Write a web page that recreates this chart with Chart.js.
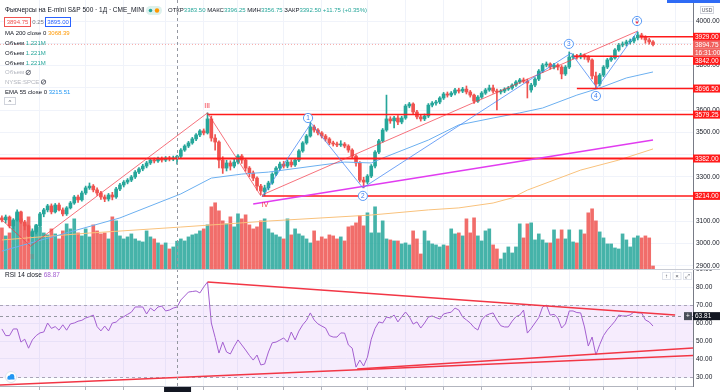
<!DOCTYPE html>
<html>
<head>
<meta charset="utf-8">
<title>E-mini S&amp;P 500 - 1D</title>
<script src="https://cdn.jsdelivr.net/npm/chart.js@4.4.1/dist/chart.umd.min.js"></script>
<style>
  html, body { margin: 0; padding: 0; background: #ffffff; overflow: hidden; }
  #wrap { position: relative; width: 720px; height: 392px; }
  #mainChart { position: absolute; left: 0; top: 0; }
  #rsiChart { position: absolute; left: 0; top: 269px; }
</style>
</head>
<body>
<div id="wrap">
  <canvas id="mainChart" width="720" height="269"></canvas>
  <canvas id="rsiChart" width="720" height="123"></canvas>
</div>
<script>
// Daily bars (bar index 0 = first visible day)
const opens = [3115,3106,3119,3079,3106,3142,3097,3079,3034,3052,
  3079,3133,3151,3169,3142,3173,3151,3133,3160,3182,
  3209,3196,3227,3250,3258,3241,3227,3209,3200,3218,
  3209,3245,3263,3276,3285,3299,3321,3335,3348,3362,
  3375,3371,3380,3375,3384,3380,3383.5,3392,3420,3438,
  3452,3470,3488,3506,3497,3560,3474,3456,3375,3339,
  3362,3348,3366,3393,3375,3339,3317,3294,3258,3232,
  3250,3272,3312,3339,3357,3348,3366,3353,3375,3416,
  3452,3483,3524,3510,3497,3483,3470,3452,3447,3443,
  3447,3438,3420,3393,3362,3285,3276,3303,3348,3411,
  3461,3510,3560,3551,3564,3546,3564,3618,3627,3591,
  3569,3560,3573,3622,3631,3636,3654,3672,3667,3676,
  3690,3685,3694,3681,3667,3640,3658,3676,3690,3699,
  3685,3681,3685,3694,3699,3712,3726,3735,3730,3690,
  3712,3739,3775,3802,3807,3793,3802,3793,3762,3793,
  3838,3843,3838,3847,3838,3825,3753,3717,3757,3793,
  3825,3834,3870,3892,3897,3906,3910,3924,3937,3928,
  3915,3906];
const highs = [3124,3128,3124,3112,3151,3146,3104,3083,3066,3086,
  3140,3158,3176,3178,3180,3182,3160,3166,3189,3216,
  3218,3236,3258,3272,3265,3250,3234,3218,3225,3230,
  3252,3270,3283,3292,3306,3328,3341,3356,3369,3383,
  3384,3388,3389,3391,3392,3393,3396.25,3427,3444,3459,
  3477,3494,3512,3515,3587,3573,3490,3462,3390,3374,
  3372,3378,3400,3400,3382,3346,3326,3300,3266,3262,
  3280,3318,3346,3366,3369,3374,3376,3382,3422,3458,
  3490,3546,3532,3516,3503,3490,3476,3460,3456,3462,
  3454,3444,3426,3398,3368,3298,3310,3355,3418,3468,
  3517,3667,3570,3572,3575,3572,3625,3634,3632,3598,
  3578,3582,3629,3638,3644,3660,3679,3681,3683,3697,
  3698,3702,3708,3688,3672,3665,3683,3697,3712,3712,
  3694,3692,3700,3706,3718,3732,3742,3744,3739,3720,
  3746,3782,3809,3816,3812,3810,3808,3800,3800,3861,
  3852,3850,3855,3852,3844,3830,3770,3764,3800,3832,
  3842,3876,3899,3906,3914,3919,3931,3950,3945,3934,
  3922,3912];
const lows = [3097,3092,3070,3066,3100,3090,3061,3012,3025,3043,
  3074,3120,3142,3133,3137,3146,3124,3126,3155,3176,
  3185,3190,3220,3243,3232,3216,3198,3188,3191,3196,
  3203,3238,3254,3268,3278,3292,3314,3327,3340,3355,
  3362,3364,3366,3368,3371,3372,3356.75,3386,3414,3431,
  3446,3462,3480,3488,3492,3460,3420,3340,3315,3326,
  3330,3340,3358,3360,3325,3300,3282,3240,3220,3214,
  3241,3266,3305,3330,3339,3340,3344,3346,3368,3410,
  3446,3478,3500,3488,3474,3460,3444,3438,3435,3436,
  3430,3410,3384,3348,3276,3250,3268,3296,3340,3404,
  3455,3504,3540,3520,3534,3538,3558,3610,3582,3560,
  3550,3552,3566,3614,3622,3628,3647,3658,3660,3668,
  3676,3678,3672,3658,3630,3634,3652,3670,3684,3676,
  3600,3672,3678,3688,3692,3706,3719,3722,3654,3680,
  3705,3732,3768,3794,3784,3785,3780,3740,3755,3786,
  3830,3829,3830,3828,3815,3740,3696.5,3708,3750,3786,
  3818,3828,3864,3884,3888,3896,3902,3915,3918,3900,
  3896,3888];
const closes = [3106,3119,3079,3106,3142,3097,3079,3034,3052,3079,
  3133,3151,3169,3142,3173,3151,3133,3160,3182,3209,
  3196,3227,3250,3258,3241,3227,3209,3200,3218,3209,
  3245,3263,3276,3285,3299,3321,3335,3348,3362,3375,
  3371,3380,3375,3384,3380,3380.75,3392.5,3420,3438,3452,
  3470,3488,3506,3497,3560,3474,3456,3375,3339,3362,
  3348,3366,3393,3375,3339,3317,3294,3258,3236,3250,
  3272,3312,3339,3357,3348,3366,3353,3375,3416,3452,
  3483,3524,3510,3497,3483,3470,3452,3447,3443,3447,
  3438,3420,3393,3362,3285,3276,3303,3348,3411,3461,
  3510,3560,3551,3564,3546,3564,3618,3627,3591,3569,
  3560,3573,3622,3631,3636,3654,3672,3667,3676,3690,
  3685,3694,3681,3667,3640,3658,3676,3690,3699,3685,
  3681,3685,3694,3699,3712,3726,3735,3730,3721,3712,
  3739,3775,3802,3807,3793,3802,3793,3762,3793,3838,
  3843,3838,3847,3838,3825,3753,3717,3757,3793,3825,
  3834,3870,3892,3897,3906,3910,3924,3937,3928,3915,
  3906,3894.75];
// volume, thousands of contracts
const volumes = [1804,1452,1584,2112,2464,2200,1980,2288,1672,1936,
  1848,1584,1496,1760,1540,1320,1672,1980,1760,2200,
  1584,1452,1760,1408,1936,1672,1540,1584,1320,2288,
  2112,1452,1320,1408,1540,1320,1232,1188,1672,1408,
  1320,1144,1056,1144,880,968,1221,1320,1232,1408,
  1496,1540,1672,1760,1936,2728,2904,2552,2112,1980,
  2288,1848,2420,2200,2376,1936,1760,1848,2112,2200,
  1760,1584,1496,1408,1320,2200,1496,1760,1540,1452,
  1320,1144,1672,1232,1408,1320,1496,1452,1320,1408,
  1232,1848,1892,2024,2332,1892,2464,1584,2728,1584,
  2112,1320,1276,1232,1232,1100,1144,1056,1672,1320,
  660,1672,1232,1100,1056,968,1056,1012,1760,1540,
  1584,1452,2200,1584,2244,1452,1232,1672,1760,1056,
  880,440,704,968,704,968,1980,1364,1980,2024,
  1276,1540,1276,1144,1144,1716,1320,1716,1320,1716,
  1188,1144,1716,1540,2464,2640,2112,1628,1364,1100,
  1100,924,880,1540,1276,968,1364,1452,1364,1452,
  1364,132];
const rsiValues = [56.7,53,53,56.7,56.7,49.4,51,46,50.6,53,
  54.5,55,60,57,58,56,59,56,59.5,60,
  61,61.5,62.8,63.5,64.4,58,55.6,58.3,55.6,60,
  60.5,62.5,63.5,64.8,66,68.9,68.9,68.9,65,68.3,
  66.7,68.9,69.4,66.7,67.2,68.3,68.87,72.8,75,77.2,
  77.5,77.8,76.7,80,82.8,60,52,43.3,49.4,43.9,
  42.8,47,50.6,47.8,45,42,39.4,42.2,36.7,37.2,
  43.9,49,49.4,50.5,51.7,49.4,55,50.6,55.5,59,
  61.5,65.6,61.7,59.5,58.3,57.2,53,52.2,52.2,54.5,
  54.4,47.8,46,35.5,39.4,36.1,41,51,57,60.6,
  60,63.3,62.8,64.4,60.6,63.5,66.1,63.5,59.4,60.6,
  57.2,60,63.3,63.9,63,62.2,65,65.6,66,68.3,
  67.2,63.3,61.7,60,57.5,56.1,61.7,64,65,65.6,
  61.7,58.5,57.8,57.8,61,63.5,64.4,67.2,54.4,57,
  60,63,68.9,70,64.4,64.8,62.8,57.2,59.5,66.7,
  66.7,65.8,65.6,57.8,47.2,52.2,42.2,48,53,56.1,
  58.5,61,64.4,63.9,63.9,64.5,66.1,65.6,65.6,61.7,
  60.6,58.3];

// moving averages, read at a few bars
const emaIdx = [0, 15, 31, 47, 55, 63, 70, 84, 90, 97, 100, 112, 120, 129, 136, 142, 151, 157, 164, 171];
const emaVals = [2966, 3038, 3115, 3223, 3294, 3312, 3321, 3353, 3366, 3362, 3384, 3465, 3533, 3564, 3587, 3609, 3667, 3699, 3744, 3771];
const maIdx = [0, 23, 47, 70, 97, 112, 120, 129, 134, 138, 145, 152, 162, 171];
const maVals = [3016, 3047, 3074, 3101, 3128, 3151, 3160, 3182, 3205, 3240, 3285, 3330, 3375, 3425];

// axes
const priceTicks = [2900, 3000, 3100, 3200, 3300, 3400, 3500, 3600, 3700, 3800, 3900, 4000];
const rsiTicks = [30, 40, 50, 60, 70, 80, 90];
const dateTicks = [10, 22, 32, 43, 53, 62, 74, 84, 96, 106, 116, 126, 139, 149, 158, 167, 177];

// horizontal levels and their starting bar
const levelPrices = [3929, 3842, 3696.5, 3579.25, 3382, 3214];
const levelFrom = [167.5, 150, 151, 54, -0.5, 68.3];
const lastPrice = 3894.75;
const askPrice = 3895.00;
const crossIdx = 46;
const crossRsi = 63.81;
const maLegend = 3068.39;
const emaLegend = 3215.51;

// drawing-tool lines (bar index / price)
const redWaveX = [0, 7.5, 54, 68];
const redWaveY = [3106, 2988, 3587, 3214];
const channelX = [68.3, 167];
const channelY = [3218, 3955];
const blueWaveX = [68.3, 81.2, 94.8, 149.5, 156.3, 167];
const blueWaveY = [3209, 3541, 3250, 3856, 3699, 3955];
const magentaX = [66, 171];
const magentaY = [3178, 3465];
const waveText = ['II', 'III', 'IV', '1', '2', '3', '4', '5'];
const waveIdx = [7.9, 53.9, 69.1, 80.4, 94.8, 148.9, 156, 166.8];
const wavePrice = [2939, 3618, 3173, 3564, 3214, 3897, 3663, 4000];

// RSI trend lines
const rsiTopX = [54, 176.8];
const rsiTopY = [82.8, 64.4];
const rsiLowAX = [-0.5, 181.5];
const rsiLowAY = [25.6, 41.9];
const rsiLowBX = [93.3, 181.5];
const rsiLowBY = [34.4, 46.1];

const FONT = '"Liberation Sans", Arial, sans-serif';
const UP = '#26a69a';
const DOWN = '#ef5350';
const DARK = '#131722';
const FAINT = '#b2b5be';
const GRID = '#f0f3fa';
const X_MIN = -0.5, X_MAX = 181.5;

const candleColor = closes.map((c, i) => c >= opens[i] ? UP : DOWN);
const volColor = closes.map((c, i) => c >= opens[i] ? 'rgba(38,166,154,0.85)' : 'rgba(239,83,80,0.85)');

function pts(xs, ys) {
    return xs.map((v, k) => ({ x: v, y: ys[k] }));
}

function lineSet(data, color, width, order, dash) {
    return {
        type: 'line', data: data, borderColor: color, borderWidth: width,
        pointRadius: 0, fill: false, tension: 0, order: order,
        borderDash: dash || [], xAxisID: 'x', yAxisID: 'y'
    };
}

function segs(ctx, x, y, parts) {
    parts.forEach(([t, c]) => {
        ctx.fillStyle = c;
        ctx.fillText(t, x, y);
        x += ctx.measureText(t).width;
    });
    return x;
}

function tagBox(ctx, x, top, w, h, bg, text, fg) {
    ctx.fillStyle = bg;
    ctx.fillRect(x, top, w, h);
    ctx.fillStyle = fg;
    ctx.textAlign = 'left';
    ctx.textBaseline = 'middle';
    ctx.fillText(text, x + 2, top + h / 2 + 0.5);
}

function dashedV(ctx, x, top, bottom) {
    ctx.save();
    ctx.strokeStyle = '#9598a1';
    ctx.lineWidth = 1;
    ctx.setLineDash([3, 3]);
    ctx.beginPath();
    ctx.moveTo(Math.round(x) + 0.5, top);
    ctx.lineTo(Math.round(x) + 0.5, bottom);
    ctx.stroke();
    ctx.restore();
}

function xScaleCfg(extra) {
    return Object.assign({
        type: 'linear', min: X_MIN, max: X_MAX, offset: false,
        grid: { color: GRID, drawTicks: false, offset: false },
        border: { display: false },
        ticks: { display: false, autoSkip: false },
        afterBuildTicks: s => { s.ticks = dateTicks.map(v => ({ value: v })); },
        afterFit: s => { s.height = 0; s.paddingLeft = 0; s.paddingRight = 0; }
    }, extra || {});
}

function nearTag(v) {
    return levelPrices.concat([lastPrice]).some(p => Math.abs(p - v) < 20);
}

// ---- main panel overlay: crosshair, wave marks, legend, price tags ----
const mainOverlay = {
    id: 'mainOverlay',
    afterDatasetsDraw(chart) {
        const { ctx, chartArea: a, scales: { x, y } } = chart;
        dashedV(ctx, x.getPixelForValue(crossIdx), a.top, a.bottom);

        ctx.save();
        ctx.textAlign = 'center';
        ctx.textBaseline = 'middle';
        waveText.forEach((t, k) => {
            const px = x.getPixelForValue(waveIdx[k]);
            const py = y.getPixelForValue(wavePrice[k]);
            const roman = /I|V/.test(t);
            if (roman) {
                ctx.font = '7px ' + FONT;
                ctx.fillStyle = t === 'II' ? 'rgba(242,54,69,0.45)' : '#f23645';
                ctx.fillText(t, px, py);
            } else {
                ctx.beginPath();
                ctx.arc(px, py, 4.6, 0, Math.PI * 2);
                ctx.fillStyle = '#ffffff';
                ctx.fill();
                ctx.strokeStyle = '#5b9cf6';
                ctx.lineWidth = 1;
                ctx.stroke();
                ctx.font = '6.5px ' + FONT;
                ctx.fillStyle = '#3d7ef0';
                ctx.fillText(t, px, py + 0.5);
                if (t === '5') {
                    ctx.fillStyle = '#f23645';
                    ctx.beginPath();
                    ctx.moveTo(px - 1.6, py + 0.5);
                    ctx.lineTo(px + 1.6, py + 0.5);
                    ctx.lineTo(px, py + 3.2);
                    ctx.fill();
                }
            }
        });
        ctx.restore();
    },
    afterDraw(chart) {
        const { ctx, chartArea: a, scales: { y } } = chart;
        ctx.save();
        ctx.font = '6.5px ' + FONT;

        // price tags on the right scale, stacked so they do not overlap
        const tags = levelPrices.map(p => ({ v: p, bg: '#ff1a1a' }));
        tags.push({ v: lastPrice, bg: '#f0625f', sub: '16:31:00' });
        tags.sort((p, q) => q.v - p.v);
        let bottom = -Infinity;
        tags.forEach(t => {
            const top = Math.max(y.getPixelForValue(t.v) - 4, bottom);
            tagBox(ctx, a.right, top, 27, 8, t.bg, t.v.toFixed(2), '#ffffff');
            bottom = top + 8;
            if (t.sub) {
                tagBox(ctx, a.right, bottom, 27, 8, t.bg, t.sub, '#ffffff');
                bottom += 8;
            }
        });

        // USD box and top strip
        ctx.fillStyle = '#2f6bf5';
        ctx.fillRect(667, 0, 53, 3);
        ctx.strokeStyle = '#d1d4dc';
        ctx.lineWidth = 1;
        ctx.strokeRect(700.5, 6.5, 13, 7);
        ctx.fillStyle = '#50535e';
        ctx.font = '5px ' + FONT;
        ctx.textAlign = 'center';
        ctx.textBaseline = 'middle';
        ctx.fillText('USD', 707, 10.3);

        // legend
        const c = crossIdx;
        const chg = closes[c] - closes[c - 1];
        const pct = chg / closes[c - 1] * 100;
        ctx.textAlign = 'left';
        ctx.font = '6.5px ' + FONT;
        segs(ctx, 5, 10.5, [['Фьючерсы на E-mini S&P 500 · 1Д · CME_MINI', DARK]]);
        ctx.fillStyle = '#dcf1ed';
        ctx.beginPath();
        ctx.roundRect(146, 6, 16, 9, 4.5);
        ctx.fill();
        ctx.fillStyle = UP;
        ctx.beginPath(); ctx.arc(150.5, 10.5, 1.8, 0, Math.PI * 2); ctx.fill();
        ctx.fillStyle = '#ff9800';
        ctx.beginPath(); ctx.arc(157, 10.5, 2.2, 0, Math.PI * 2); ctx.fill();
        ctx.font = '6px ' + FONT;
        segs(ctx, 168, 10.5, [
            ['ОТКР', DARK], [opens[c].toFixed(2), UP],
            [' МАКС', DARK], [highs[c].toFixed(2), UP],
            [' МИН', DARK], [lows[c].toFixed(2), UP],
            [' ЗАКР', DARK], [closes[c].toFixed(2), UP],
            [' +' + chg.toFixed(2) + ' (+' + pct.toFixed(2) + '%)', UP]
        ]);

        // bid / ask boxes
        ctx.font = '6px ' + FONT;
        ctx.fillStyle = '#ffffff';
        ctx.fillRect(4, 17.5, 26, 9);
        ctx.strokeStyle = DOWN;
        ctx.strokeRect(4.5, 17.5, 26, 9);
        ctx.textAlign = 'center';
        ctx.fillStyle = DOWN;
        ctx.fillText(lastPrice.toFixed(2), 17.5, 22.5);
        ctx.fillStyle = '#787b86';
        ctx.fillText((askPrice - lastPrice).toFixed(2), 38, 22.5);
        ctx.fillStyle = '#ffffff';
        ctx.fillRect(45, 17.5, 25, 9);
        ctx.strokeStyle = '#2962ff';
        ctx.strokeRect(45.5, 17.5, 25, 9);
        ctx.fillStyle = '#2962ff';
        ctx.fillText(askPrice.toFixed(2), 58, 22.5);
        ctx.textAlign = 'left';

        const vol = (volumes[c] / 1000).toFixed(3) + 'M';
        segs(ctx, 5, 33.5, [['MA 200 close 0 ', DARK], [maLegend.toFixed(2), '#ff9800']]);
        [43.5, 53.5, 63].forEach(yy => segs(ctx, 5, yy, [['Объем ', DARK], [vol, UP]]));
        let ex = segs(ctx, 5, 72.5, [['Объем ', FAINT]]);
        const eye = (px, py) => {
            ctx.strokeStyle = '#6a6d78';
            ctx.beginPath(); ctx.arc(px + 2.5, py, 2.2, 0, Math.PI * 2); ctx.stroke();
            ctx.beginPath(); ctx.moveTo(px + 0.5, py + 2); ctx.lineTo(px + 4.5, py - 2); ctx.stroke();
        };
        eye(ex, 72.5);
        ex = segs(ctx, 5, 82, [['NYSE:SPCE ', FAINT]]);
        eye(ex, 82);
        segs(ctx, 5, 92, [['EMA 55 close 0 ', DARK], [emaLegend.toFixed(2), '#2196f3']]);
        ctx.strokeStyle = '#d1d4dc';
        ctx.strokeRect(4.5, 97.5, 11, 7);
        ctx.fillStyle = '#50535e';
        ctx.textAlign = 'center';
        ctx.fillText('^', 10, 102);
        ctx.restore();
    }
};

// ---- RSI panel overlay ----
const rsiOverlay = {
    id: 'rsiOverlay',
    beforeDatasetsDraw(chart) {
        const { ctx, chartArea: a, scales: { y } } = chart;
        const y70 = y.getPixelForValue(70), y30 = y.getPixelForValue(30);
        ctx.save();
        ctx.fillStyle = 'rgba(156,39,230,0.09)';
        ctx.fillRect(a.left, y70, a.right - a.left, y30 - y70);
        ctx.strokeStyle = '#a9a4b8';
        ctx.lineWidth = 1;
        ctx.setLineDash([3, 3]);
        [y70, y30].forEach(yy => {
            ctx.beginPath();
            ctx.moveTo(a.left, Math.round(yy) + 0.5);
            ctx.lineTo(a.right, Math.round(yy) + 0.5);
            ctx.stroke();
        });
        ctx.restore();
    },
    afterDatasetsDraw(chart) {
        const { ctx, chartArea: a, scales: { x, y } } = chart;
        dashedV(ctx, x.getPixelForValue(crossIdx), a.top, a.bottom);
        const cy = Math.round(y.getPixelForValue(crossRsi)) + 0.5;
        ctx.save();
        ctx.strokeStyle = '#9598a1';
        ctx.setLineDash([3, 3]);
        ctx.beginPath();
        ctx.moveTo(a.left, cy);
        ctx.lineTo(a.right, cy);
        ctx.stroke();
        ctx.restore();
    },
    afterDraw(chart) {
        const { ctx, chartArea: a, scales: { x, y } } = chart;
        ctx.save();
        // panel separator
        ctx.strokeStyle = '#c9ccd4';
        ctx.lineWidth = 1;
        ctx.beginPath();
        ctx.moveTo(0, 0.5);
        ctx.lineTo(720, 0.5);
        ctx.stroke();

        ctx.font = '6.5px ' + FONT;
        ctx.textBaseline = 'middle';
        ctx.textAlign = 'left';
        segs(ctx, 5, 6.5, [['RSI 14 close ', DARK], [rsiValues[crossIdx].toFixed(2), '#a35fd0']]);

        // crosshair value on the scale
        const cy = y.getPixelForValue(crossRsi);
        ctx.fillStyle = '#4a4e59';
        ctx.fillRect(684, cy - 4, 8, 8);
        ctx.fillStyle = '#ffffff';
        ctx.textAlign = 'center';
        ctx.fillText('+', 688, cy + 0.5);
        tagBox(ctx, a.right, cy - 4, 27, 8, DARK, crossRsi.toFixed(2), '#ffffff');

        // pane buttons
        ctx.font = '6px ' + FONT;
        ['↑', '×', '⤢'].forEach((g, k) => {
            const bx = 662 + k * 10.5;
            ctx.fillStyle = '#ffffff';
            ctx.fillRect(bx, 3, 8.5, 8);
            ctx.strokeStyle = '#e0e3eb';
            ctx.strokeRect(bx + 0.5, 3.5, 8, 7);
            ctx.fillStyle = '#50535e';
            ctx.textAlign = 'center';
            ctx.fillText(g, bx + 4.5, 7.5);
        });

        // cloud badge bottom-left
        ctx.fillStyle = '#ffffff';
        ctx.strokeStyle = '#e0e3eb';
        ctx.beginPath(); ctx.arc(11, 108, 5.5, 0, Math.PI * 2); ctx.fill(); ctx.stroke();
        ctx.fillStyle = '#2196f3';
        ctx.beginPath(); ctx.arc(9.5, 108.5, 2, 0, Math.PI * 2); ctx.arc(12, 107.5, 2.4, 0, Math.PI * 2); ctx.fill();
        ctx.fillRect(7.5, 108.5, 7, 2);

        // crosshair date box on the time scale
        const cx = x.getPixelForValue(crossIdx);
        ctx.fillStyle = DARK;
        ctx.fillRect(cx - 13, a.bottom + 1, 27, 6);
        ctx.restore();
    }
};

const mainChart = new Chart(document.getElementById('mainChart'), {
    type: 'line',
    data: {
        datasets: [
            { type: 'bar', data: volumes.map((v, i) => ({ x: i, y: v })), backgroundColor: volColor,
              barThickness: 3, grouped: false, yAxisID: 'yv', xAxisID: 'x', order: 30 },
            { type: 'bar', data: lows.map((l, i) => ({ x: i, y: [l, highs[i]] })), backgroundColor: candleColor,
              barThickness: 1, grouped: false, yAxisID: 'y', xAxisID: 'x', order: 21 },
            { type: 'bar', data: opens.map((o, i) => ({ x: i, y: [o, closes[i]] })), backgroundColor: candleColor,
              barThickness: 3, minBarLength: 1, grouped: false, yAxisID: 'y', xAxisID: 'x', order: 20 },
            lineSet(pts(maIdx, maVals), '#f9c27c', 1, 15),
            lineSet(pts(emaIdx, emaVals), '#6cb0f0', 1, 14),
            lineSet([{ x: X_MIN, y: lastPrice }, { x: X_MAX, y: lastPrice }], 'rgba(239,83,80,0.5)', 1, 13, [1, 2]),
            ...levelPrices.map((p, k) => lineSet([{ x: levelFrom[k], y: p }, { x: X_MAX, y: p }], '#ff1a1a', p === 3382 ? 2 : 1.5, 6)),
            lineSet(pts(redWaveX, redWaveY), 'rgba(242,54,69,0.7)', 1, 5),
            lineSet(pts(channelX, channelY), 'rgba(242,54,69,0.7)', 1, 5),
            lineSet(pts(blueWaveX, blueWaveY), 'rgba(66,133,244,0.75)', 1, 4),
            lineSet(pts(magentaX, magentaY), '#e13cf0', 1.5, 4)
        ]
    },
    options: {
        responsive: false,
        devicePixelRatio: 1,
        animation: false,
        events: [],
        layout: { padding: 0, autoPadding: false },
        plugins: { legend: { display: false }, tooltip: { enabled: false } },
        scales: {
            x: xScaleCfg(),
            y: {
                type: 'linear', position: 'right', min: 2885.4, max: 4094.4,
                grid: { color: GRID, drawTicks: false },
                border: { display: true, color: '#787b86' },
                ticks: { color: DARK, font: { size: 6.5, family: FONT }, padding: 3, autoSkip: false,
                         callback: v => nearTag(v) ? '' : Number(v).toFixed(2) },
                afterBuildTicks: s => { s.ticks = priceTicks.map(v => ({ value: v })); },
                afterFit: s => { s.width = 27; s.paddingTop = 0; s.paddingBottom = 0; }
            },
            yv: { type: 'linear', display: false, min: 0, max: 11800 }
        }
    },
    plugins: [mainOverlay]
});

const rsiChart = new Chart(document.getElementById('rsiChart'), {
    type: 'line',
    data: {
        datasets: [
            lineSet(rsiValues.map((v, i) => ({ x: i, y: v })), '#a35fd0', 1, 5),
            lineSet(pts(rsiTopX, rsiTopY), '#f23645', 1.5, 3),
            lineSet(pts(rsiLowAX, rsiLowAY), '#f23645', 1.5, 3),
            lineSet(pts(rsiLowBX, rsiLowBY), '#f23645', 1.5, 3)
        ]
    },
    options: {
        responsive: false,
        devicePixelRatio: 1,
        animation: false,
        events: [],
        layout: { padding: 0, autoPadding: false },
        plugins: { legend: { display: false }, tooltip: { enabled: false } },
        scales: {
            x: xScaleCfg({
                grid: { color: GRID, drawTicks: true, tickLength: 4, tickColor: '#b2b5be', offset: false },
                border: { display: true, color: '#b2b5be' },
                afterFit: s => { s.height = 6; s.paddingLeft = 0; s.paddingRight = 0; }
            }),
            y: {
                type: 'linear', position: 'right', min: 25, max: 90,
                grid: { color: GRID, drawTicks: false },
                border: { display: true, color: '#787b86' },
                ticks: { color: DARK, font: { size: 6.5, family: FONT }, padding: 3, autoSkip: false,
                         callback: v => Number(v).toFixed(2) },
                afterBuildTicks: s => { s.ticks = rsiTicks.map(v => ({ value: v })); },
                afterFit: s => { s.width = 27; s.paddingTop = 0; s.paddingBottom = 0; }
            }
        }
    },
    plugins: [rsiOverlay]
});
</script>
</body>
</html>
